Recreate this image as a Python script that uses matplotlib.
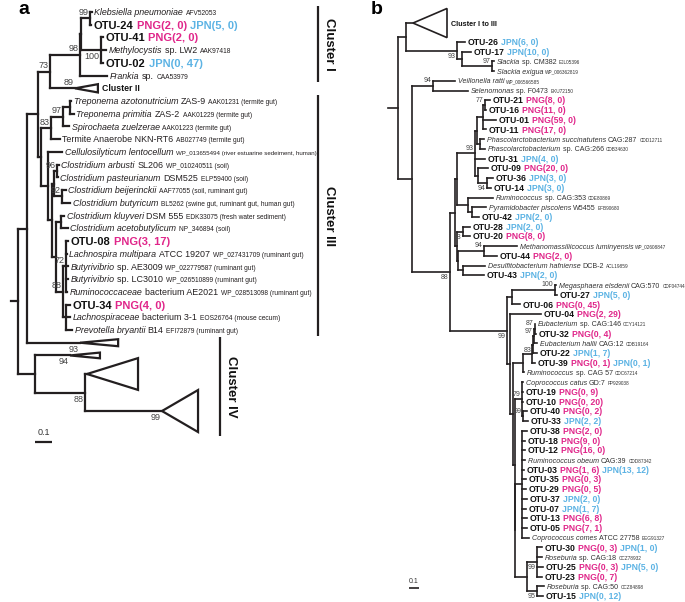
import matplotlib.pyplot as plt
from matplotlib.collections import LineCollection
from matplotlib.patches import Polygon

plt.rcParams['font.family'] = ['Liberation Sans', 'DejaVu Sans']

W, H = 685, 602
LINE = '#231f20'
PNG_COL = '#e0268a'
JPN_COL = '#5cb3e4'

# ---------------- panel a ----------------
# internal nodes: name, parent, depth from root (subst./site), bootstrap
a_nodes = [
    ("R", None, 0.0, ""),
    ("A", "R", 0.053, ""),
    ("B", "A", 0.118, ""),
    ("n73", "B", 0.188, "73"),
    ("n98", "n73", 0.365, "98"),
    ("nIn", "n98", 0.371, ""),
    ("n99", "nIn", 0.424, "99"),
    ("n100", "nIn", 0.488, "100"),
    ("D", "B", 0.135, ""),
    ("n83", "D", 0.194, "83"),
    ("n97", "n83", 0.265, "97"),
    ("nTrep", "n97", 0.306, ""),
    ("E", "D", 0.176, ""),
    ("F", "E", 0.2, ""),
    ("G", "F", 0.212, ""),
    ("n96", "G", 0.229, "96"),
    ("n92", "G", 0.259, "92"),
    ("H", "F", 0.224, ""),
    ("nKlu", "H", 0.253, ""),
    ("n88", "H", 0.265, "88"),
    ("n72", "n88", 0.282, "72"),
    ("nLach", "n88", 0.282, ""),
    ("CIV", "R", 0.1, ""),
    ("n88b", "CIV", 0.394, "88"),
]

# leaves top to bottom: parent, depth, label tokens, collapsed clade (length, height, rows, bootstrap)
a_leaves = [
    ("n99", 0.435, [("Klebsiella pneumoniae", "i"), ("AFV52053", "s")], None),
    ("n99", 0.429, [("OTU-24", "o"), ("PNG(2, 0)", "p"), ("JPN(5, 0)", "j")], None),
    ("n100", 0.5, [("OTU-41", "o"), ("PNG(2, 0)", "p")], None),
    ("n100", 0.518, [("Methylocystis", "i"), ("sp. LW2", "r"), ("AAK97418", "s")], None),
    ("n100", 0.5, [("OTU-02", "o"), ("JPN(0, 47)", "j")], None),
    ("n98", 0.524, [("Frankia", "i"), ("sp.", "r"), ("CAA53979", "s")], None),
    ("n73", 0.335, [("Cluster II", "c")], (0.135, 0.65, 1.0, "89")),
    ("nTrep", 0.312, [("Treponema azotonutricium", "i"), ("ZAS-9", "r"), ("AAK01231 (termite gut)", "s")], None),
    ("nTrep", 0.329, [("Treponema primitia", "i"), ("ZAS-2", "r"), ("AAK01229 (termite gut)", "s")], None),
    ("n97", 0.3, [("Spirochaeta zuelzerae", "i"), ("AAK01223 (termite gut)", "s")], None),
    ("n83", 0.247, [("Termite Anaerobe NKN-RT6", "r"), ("AB027749 (termite gut)", "s")], None),
    ("E", 0.259, [("Cellulosilyticum lentocellum", "i"), ("WP_013655494 (river estuarine sedeiment, human)", "x")], None),
    ("n96", 0.241, [("Clostridium arbusti", "i"), ("SL206", "r"), ("WP_010240511 (soil)", "s")], None),
    ("n96", 0.235, [("Clostridium pasteurianum", "i"), ("DSM525", "r"), ("ELP59400 (soil)", "s")], None),
    ("n92", 0.282, [("Clostridium beijerinckii", "i"), ("AAF77055 (soil, ruminant gut)", "s")], None),
    ("n92", 0.306, [("Clostridium butyricum", "i"), ("BL5262 (swine gut, ruminant gut, human gut)", "s")], None),
    ("nKlu", 0.271, [("Clostridium kluyveri", "i"), ("DSM 555", "r"), ("EDK33075 (fresh water sediment)", "s")], None),
    ("nKlu", 0.294, [("Clostridium acetobutylicum", "i"), ("NP_346894 (soil)", "s")], None),
    ("n72", 0.294, [("OTU-08", "o"), ("PNG(3, 17)", "p")], None),
    ("n72", 0.288, [("Lachnospira multipara", "i"), ("ATCC 19207", "r"), ("WP_027431709 (ruminant gut)", "s")], None),
    ("n72", 0.294, [("Butyrivibrio", "i"), ("sp. AE3009", "r"), ("WP_022779587 (ruminant gut)", "s")], None),
    ("n72", 0.294, [("Butyrivibrio", "i"), ("sp. LC3010", "r"), ("WP_026510899 (ruminant gut)", "s")], None),
    ("n72", 0.288, [("Ruminococcaceae", "i"), ("bacterium AE2021", "r"), ("WP_028513098 (ruminant gut)", "s")], None),
    ("nLach", 0.306, [("OTU-34", "o"), ("PNG(4, 0)", "p")], None),
    ("nLach", 0.306, [("Lachnospiraceae", "i"), ("bacterium 3-1", "r"), ("EOS26764 (mouse cecum)", "s")], None),
    ("nLach", 0.318, [("Prevotella bryantii", "i"), ("B14", "r"), ("EFI72879 (ruminant gut)", "s")], None),
    ("A", 0.365, [], (0.224, 0.55, 1.0, "93")),
    ("CIV", 0.306, [], (0.176, 0.45, 1.0, "94")),
    ("n88b", 0.406, [], (0.3, 2.5, 1.92, "")),
    ("n88b", 0.847, [], (0.212, 3.3, 3.9, "99")),
]
a_below = {"n100", "n88b", 26, 27, 29}
a_clusters = [("Cluster I", 0, 5), ("Cluster III", 7, 25), ("Cluster IV", 26, 29)]

# ---------------- panel b ----------------
b_nodes = [
    ("Rb", None, 0.0, ""),
    ("nTop", "Rb", 0.08, ""),
    ("n93a", "nTop", 0.59, "93"),
    ("nS", "n93a", 0.64, ""),
    ("nSl", "nS", 0.94, "97"),
    ("nBot", "Rb", 0.14, ""),
    ("nVeil", "nBot", 0.35, "94"),
    ("n88a", "nBot", 0.52, "88"),
    ("P", "n88a", 0.57, ""),
    ("Q", "P", 0.59, ""),
    ("n93b", "Q", 0.77, "93"),
    ("nPh", "n93b", 0.79, ""),
    ("nOTU", "nPh", 0.85, ""),
    ("n77", "nOTU", 0.87, "77"),
    ("nPhasc", "nPh", 0.82, ""),
    ("n94c", "n93b", 0.80, ""),
    ("n94", "n94c", 0.89, "94"),
    ("nRum", "Q", 0.70, ""),
    ("nPyr", "nRum", 0.74, ""),
    ("nDS", "P", 0.59, ""),
    ("n88c", "nDS", 0.65, "88"),
    ("nLow", "nDS", 0.60, ""),
    ("n94d", "nLow", 0.86, "94"),
    ("nDes", "nLow", 0.65, ""),
    ("n99", "n88a", 1.09, "99"),
    ("nMeg6", "n99", 1.14, ""),
    ("n100", "nMeg6", 1.57, "100"),
    ("nBig", "n99", 1.12, ""),
    ("X", "nBig", 1.15, ""),
    ("nEub", "X", 1.25, ""),
    ("nE2", "nEub", 1.34, ""),
    ("n83b", "nE2", 1.35, "83"),
    ("n97b", "n83b", 1.36, "97"),
    ("n87", "n97b", 1.37, "87"),
    ("n79", "X", 1.17, ""),
    ("nC1", "n79", 1.24, "79"),
    ("n99e", "nC1", 1.25, "99"),
    ("nC2", "n79", 1.17, ""),
    ("nC3", "nC2", 1.24, ""),
    ("nRos", "nC2", 1.29, ""),
    ("n99f", "nRos", 1.39, "99"),
    ("n95", "nRos", 1.39, "95"),
]

b_leaves = [
    ("nTop", 0.15, [("Cluster I to III", "c")], (0.34, 3.0, 2.9, "")),
    ("n93a", 0.67, [("OTU-26", "o"), ("JPN(6, 0)", "j")], None),
    ("nS", 0.73, [("OTU-17", "o"), ("JPN(10, 0)", "j")], None),
    ("nSl", 0.96, [("Slackia", "i"), ("sp. CM382", "r"), ("EJL05396", "s")], None),
    ("nSl", 0.96, [("Slackia exigua", "i"), ("WP_006362819", "s")], None),
    ("nVeil", 0.57, [("Veillonella ratti", "i"), ("WP_006566585", "s")], None),
    ("nVeil", 0.70, [("Selenomonas", "i"), ("sp. F0473", "r"), ("EKU72150", "s")], None),
    ("n77", 0.92, [("OTU-21", "o"), ("PNG(8, 0)", "p")], None),
    ("n77", 0.88, [("OTU-16", "o"), ("PNG(11, 0)", "p")], None),
    ("nOTU", 0.98, [("OTU-01", "o"), ("PNG(59, 0)", "p")], None),
    ("nOTU", 0.88, [("OTU-11", "o"), ("PNG(17, 0)", "p")], None),
    ("nPhasc", 0.86, [("Phascolarctobacterium succinatutens", "i"), ("CAG:287", "r"), ("CDD12711", "s")], None),
    ("nPhasc", 0.87, [("Phascolarctobacterium", "i"), ("sp. CAG:266", "r"), ("CDB34630", "s")], None),
    ("n93b", 0.87, [("OTU-31", "o"), ("JPN(4, 0)", "j")], None),
    ("n94c", 0.90, [("OTU-09", "o"), ("PNG(20, 0)", "p")], None),
    ("n94", 0.95, [("OTU-36", "o"), ("JPN(3, 0)", "j")], None),
    ("n94", 0.93, [("OTU-14", "o"), ("JPN(3, 0)", "j")], None),
    ("nRum", 0.95, [("Ruminococcus", "i"), ("sp. CAG:353", "r"), ("CDE80869", "s")], None),
    ("nPyr", 0.88, [("Pyramidobacter piscolens", "i"), ("W5455", "r"), ("EFB90680", "s")], None),
    ("nPyr", 0.81, [("OTU-42", "o"), ("JPN(2, 0)", "j")], None),
    ("n88c", 0.72, [("OTU-28", "o"), ("JPN(2, 0)", "j")], None),
    ("n88c", 0.72, [("OTU-20", "o"), ("PNG(8, 0)", "p")], None),
    ("n94d", 1.19, [("Methanomassiliicoccus luminyensis", "i"), ("WP_02608847", "s")], None),
    ("n94d", 0.99, [("OTU-44", "o"), ("PNG(2, 0)", "p")], None),
    ("nDes", 0.87, [("Desulfitobacterium hafniense", "i"), ("DCB-2", "r"), ("ACL19859", "s")], None),
    ("nDes", 0.86, [("OTU-43", "o"), ("JPN(2, 0)", "j")], None),
    ("n100", 1.58, [("Megasphaera elsdenii", "i"), ("CAG:570", "r"), ("CDF04744", "s")], None),
    ("n100", 1.59, [("OTU-27", "o"), ("JPN(5, 0)", "j")], None),
    ("nMeg6", 1.22, [("OTU-06", "o"), ("PNG(0, 45)", "p")], None),
    ("nBig", 1.43, [("OTU-04", "o"), ("PNG(2, 29)", "p")], None),
    ("n87", 1.37, [("Eubacterium", "i"), ("sp. CAG:146", "r"), ("CCY14121", "s")], None),
    ("n87", 1.38, [("OTU-32", "o"), ("PNG(0, 4)", "p")], None),
    ("n97b", 1.39, [("Eubacterium hallii", "i"), ("CAG:12", "r"), ("CDB19164", "s")], None),
    ("n83b", 1.39, [("OTU-22", "o"), ("JPN(1, 7)", "j")], None),
    ("nE2", 1.37, [("OTU-39", "o"), ("PNG(0, 1)", "p"), ("JPN(0, 1)", "j")], None),
    ("nEub", 1.26, [("Ruminococcus", "i"), ("sp. CAG 57", "r"), ("CDC67214", "s")], None),
    ("nC1", 1.25, [("Coprococcus catus", "i"), ("GD:7", "r"), ("FP929038", "s")], None),
    ("nC1", 1.25, [("OTU-19", "o"), ("PNG(0, 9)", "p")], None),
    ("nC1", 1.25, [("OTU-10", "o"), ("PNG(0, 20)", "p")], None),
    ("n99e", 1.29, [("OTU-40", "o"), ("PNG(0, 2)", "p")], None),
    ("n99e", 1.30, [("OTU-33", "o"), ("JPN(2, 2)", "j")], None),
    ("nC3", 1.29, [("OTU-38", "o"), ("PNG(2, 0)", "p")], None),
    ("nC3", 1.27, [("OTU-18", "o"), ("PNG(9, 0)", "p")], None),
    ("nC3", 1.27, [("OTU-12", "o"), ("PNG(16, 0)", "p")], None),
    ("nC3", 1.27, [("Ruminococcus obeum", "i"), ("CAG:39", "r"), ("CDD87342", "s")], None),
    ("nC3", 1.26, [("OTU-03", "o"), ("PNG(1, 6)", "p"), ("JPN(13, 12)", "j")], None),
    ("nC3", 1.28, [("OTU-35", "o"), ("PNG(0, 3)", "p")], None),
    ("nC3", 1.28, [("OTU-29", "o"), ("PNG(0, 5)", "p")], None),
    ("nC3", 1.29, [("OTU-37", "o"), ("JPN(2, 0)", "j")], None),
    ("nC3", 1.28, [("OTU-07", "o"), ("JPN(1, 7)", "j")], None),
    ("nC3", 1.29, [("OTU-13", "o"), ("PNG(6, 8)", "p")], None),
    ("nC3", 1.29, [("OTU-05", "o"), ("PNG(7, 1)", "p")], None),
    ("nC3", 1.31, [("Coprococcus comes", "i"), ("ATCC 27758", "r"), ("EEG91327", "s")], None),
    ("n99f", 1.44, [("OTU-30", "o"), ("PNG(0, 3)", "p"), ("JPN(1, 0)", "j")], None),
    ("n99f", 1.44, [("Roseburia", "i"), ("sp. CAG:18", "r"), ("CCZ78932", "s")], None),
    ("n99f", 1.45, [("OTU-25", "o"), ("PNG(0, 3)", "p"), ("JPN(5, 0)", "j")], None),
    ("n99f", 1.44, [("OTU-23", "o"), ("PNG(0, 7)", "p")], None),
    ("n95", 1.46, [("Roseburia", "i"), ("sp. CAG:50", "r"), ("CCZ84898", "s")], None),
    ("n95", 1.45, [("OTU-15", "o"), ("JPN(0, 12)", "j")], None),
]
b_below = {"n93a", "n88a", "n99", "n94", "n88c", "n83b", "n99f", "n95"}

# text styles: size, weight, style, colour
sty_a = {"i": (6.4, "normal", "italic", "#231f20"), "r": (6.4, "normal", "normal", "#231f20"),
         "s": (4.8, "normal", "normal", "#231f20"), "x": (4.4, "normal", "normal", "#231f20"),
         "o": (8, "bold", "normal", "#111111"), "p": (8, "bold", "normal", PNG_COL),
         "j": (8, "bold", "normal", JPN_COL), "c": (6.3, "bold", "normal", "#111111")}
sty_b = {"i": (5.1, "normal", "italic", "#333333"), "r": (5.1, "normal", "normal", "#333333"),
         "s": (3.4, "normal", "normal", "#333333"), "x": (3.4, "normal", "normal", "#333333"),
         "o": (6.2, "bold", "normal", "#111111"), "p": (6.2, "bold", "normal", PNG_COL),
         "j": (6.2, "bold", "normal", JPN_COL), "c": (5.2, "bold", "normal", "#111111")}

fig = plt.figure(figsize=(W / 100, H / 100), dpi=100)
renderer = fig.canvas.get_renderer()


def make_axes(x0, px_unit, y0, px_row):
    ax = fig.add_axes([0, 0, 1, 1])
    ax.set_xlim(-x0 / px_unit, (W - x0) / px_unit)
    ax.set_ylim((H - y0) / px_row, -y0 / px_row)
    ax.axis("off")
    return ax


def put_label(ax, x, y, toks, sty, dx=2.5):
    if not toks:
        return
    dy = -0.36 * sty[toks[0][1]][0] * 100 / 72
    for s, k in toks:
        size, weight, style, col = sty[k]
        t = ax.annotate(s, (x, y), xytext=(dx, dy), textcoords="offset pixels",
                        fontsize=size, fontweight=weight, fontstyle=style, color=col,
                        ha="left", va="baseline", annotation_clip=False)
        dx += t.get_window_extent(renderer).width + 0.3 * size * 100 / 72


def draw_tree(ax, nodes, leaves, below, sty, lw, sup_size, stub):
    depth, par, sup = {}, {}, {}
    for n, p, d, s in nodes:
        depth[n], par[n], sup[n] = d, p, s
    kids = {n: [] for n in depth}
    ypos, top = {}, 0.0
    for i, (p, d, toks, tri) in enumerate(leaves):
        span = tri[2] if tri else 1.0
        ypos[i] = top + span / 2
        top += span
        depth[i], par[i] = d, p
        kids[p].append(i)
    for n, p, d, s in nodes:
        if p is not None:
            kids[p].append(n)

    def place(n):
        if n not in ypos:
            ys = [place(c) for c in kids[n]]
            ypos[n] = (min(ys) + max(ys)) / 2
        return ypos[n]

    root = [n for n, p, d, s in nodes if p is None][0]
    place(root)
    segs = [[(-stub, ypos[root]), (0, ypos[root])]]
    for n in depth:
        if par[n] is not None:
            segs.append([(depth[par[n]], ypos[n]), (depth[n], ypos[n])])
        if kids.get(n):
            ys = [ypos[c] for c in kids[n]]
            segs.append([(depth[n], min(ys)), (depth[n], max(ys))])
    ax.add_collection(LineCollection(segs, colors=LINE, linewidths=lw, capstyle="projecting"))

    def support(x, y, txt, key):
        if not txt:
            return
        lo = key in below
        ax.annotate(txt, (x, y), xytext=(-1.5, -2 if lo else 1.5), textcoords="offset pixels",
                    fontsize=sup_size, color="#444444", ha="right",
                    va="top" if lo else "bottom", annotation_clip=False)

    for n in sup:
        support(depth[n], ypos[n], sup[n], n)
    for i, (p, d, toks, tri) in enumerate(leaves):
        tip = d
        if tri:
            length, h, span, bs = tri
            tip = d + length
            ax.add_patch(Polygon([(d, ypos[i]), (tip, ypos[i] - h / 2), (tip, ypos[i] + h / 2)],
                                 closed=True, fc="white", ec=LINE, lw=lw, joinstyle="miter"))
            support(d, ypos[i], bs, i)
        put_label(ax, tip, ypos[i], toks, sty, dx=4 if tri else 2.5)
    return ypos


# panel a: root at x=18px, 0.1 subst. = 17px, rows 12.72px
ax_a = make_axes(18, 170, 5.64, 12.72)
ya = draw_tree(ax_a, a_nodes, a_leaves, a_below, sty_a, 1.6, 6.5, 0.04)
for name, first, last in a_clusters:
    bx = 1.765 if name != "Cluster IV" else 1.188
    span_last = a_leaves[last][3][2] / 2 if a_leaves[last][3] else 0.5
    y1, y2 = ya[first] - 0.45, ya[last] + span_last
    ax_a.plot([bx, bx], [y1, y2], color=LINE, lw=1.6, solid_capstyle="butt")
    ax_a.annotate(name, (bx, (y1 + y2) / 2), xytext=(5, 0), textcoords="offset pixels",
                  rotation=-90, fontsize=9.5, fontweight="bold", color="#111111",
                  ha="left", va="center", annotation_clip=False)
ax_a.plot([0.1, 0.2], [34.3, 34.3], color=LINE, lw=1.6, solid_capstyle="butt")
ax_a.text(0.15, 33.95, "0.1", fontsize=6.5, color="#333333", ha="center", va="bottom")

# panel b: root at x=398px, 0.1 subst. = 10px, rows 9.72px
ax_b = make_axes(398, 100, 8.95, 9.72)
draw_tree(ax_b, b_nodes, b_leaves, b_below, sty_b, 1.2, 5.0, 0.1)
ax_b.plot([0.11, 0.21], [59.6, 59.6], color=LINE, lw=1.2, solid_capstyle="butt")
ax_b.text(0.16, 59.3, "0.1", fontsize=5, color="#333333", ha="center", va="bottom")

fig.text(24 / W, 1 - 10 / H, "a", fontsize=14, fontweight="bold", ha="center", va="center")
fig.text(377 / W, 1 - 10 / H, "b", fontsize=14, fontweight="bold", ha="center", va="center")

fig.savefig("out.png", dpi=100, facecolor="white")
